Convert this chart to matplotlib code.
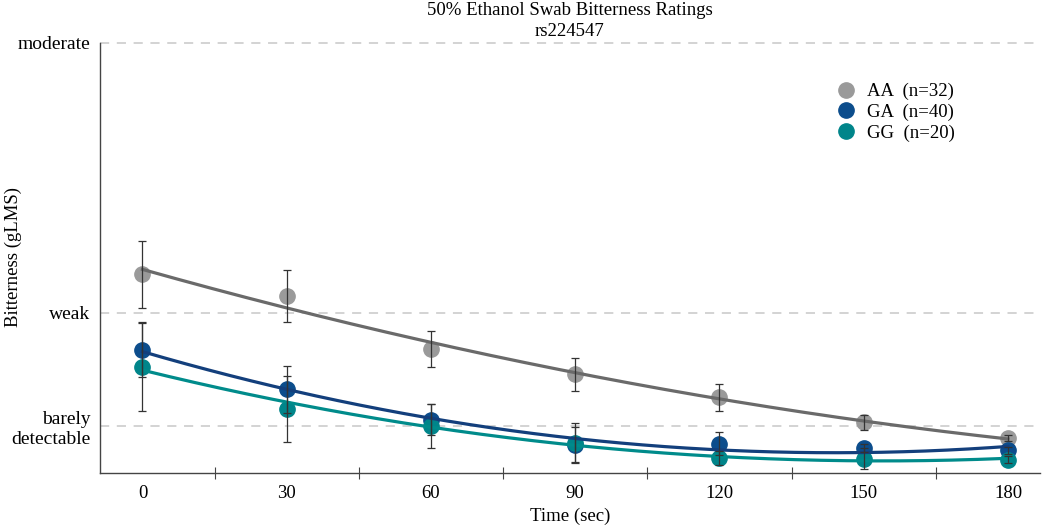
import matplotlib
matplotlib.use('Agg')
import matplotlib.pyplot as plt
import numpy as np

plt.rcParams['font.family'] = ['Liberation Serif', 'DejaVu Serif']

# data (gLMS units)
times = [0, 30, 60, 90, 120, 150, 180]
aa = [7.56, 6.68, 4.53, 3.50, 2.56, 1.55, 0.90]
aa_err = [1.38, 1.05, 0.73, 0.68, 0.54, 0.31, 0.12]
ga = [4.48, 2.89, 1.64, 0.62, 0.67, 0.49, 0.40]
ga_err = [1.10, 0.96, 0.63, 0.75, 0.47, 0.15, 0.15]
gg = [3.81, 2.09, 1.40, 0.72, 0.09, 0.06, 0.02]
gg_err = [1.82, 1.34, 0.90, 0.80, 0.30, 0.43, 0.15]

labels = ['AA  (n=32)', 'GA  (n=40)', 'GG  (n=20)']
mcol = ['#9a9a9a', '#0c4d8c', '#00858a']
lcol = ['#6a6a6a', '#133f7c', '#008b8b']

lms_vals = [1.4, 6, 17]
lms_names = ['barely\ndetectable', 'weak', 'moderate']

fig = plt.figure(figsize=(10.5, 5.25), dpi=100)
ax = fig.add_axes([0.0952, 0.100, 0.895, 0.819])

for y in lms_vals:
    ax.axhline(y, color='#c8c8c8', lw=1.1, ls=(0, (6, 5)), zorder=1, clip_on=False)

xs = np.linspace(0, 180, 200)
for vals, err, lab, mc, lc in zip([aa, ga, gg], [aa_err, ga_err, gg_err], labels, mcol, lcol):
    ax.plot(times, vals, 'o', ms=11, color=mc, mec=mc, zorder=2, label=lab)
    z = np.polyfit(times, vals, 2)
    ax.plot(xs, np.polyval(z, xs), color=lc, lw=2.3, zorder=3)
    ax.errorbar(times, vals, yerr=err, fmt='none', ecolor='#333333', elinewidth=0.9,
                capsize=3, capthick=0.9, zorder=4)

ax.set_xlim(-8.84, 186.6)
ax.set_ylim(-0.5, 17)
ax.set_xticks(times)
ax.set_xticks([15, 45, 75, 105, 135, 165], minor=True)
ax.tick_params(axis='x', which='major', length=0, labelsize=13.5, pad=9)
ax.tick_params(axis='x', which='minor', direction='inout', length=8.6, width=0.8, color='#444444')
ax.set_yticks(lms_vals)
ax.set_yticklabels(lms_names, fontsize=14, ha='right', linespacing=1.25)
ax.tick_params(axis='y', length=0, pad=7)

for s in ['top', 'right']:
    ax.spines[s].set_visible(False)
for s in ['left', 'bottom']:
    ax.spines[s].set_color('#444444')
    ax.spines[s].set_linewidth(1.0)

fig.text(0.543, 0.016, 'Time (sec)', fontsize=13.5, ha='center', va='center')
fig.text(0.013, 0.51, 'Bitterness (gLMS)', fontsize=13.5, ha='center', va='center', rotation=90)
ax.set_title('50% Ethanol Swab Bitterness Ratings\nrs224547', fontsize=13.5, pad=5, linespacing=1.25)

leg = ax.legend(loc='upper left', bbox_to_anchor=(0.766, 0.945), frameon=False, fontsize=13.5,
                handlelength=1.0, handletextpad=0.6, labelspacing=0.18, markerscale=1.0)

fig.savefig('out.png', dpi=100)
